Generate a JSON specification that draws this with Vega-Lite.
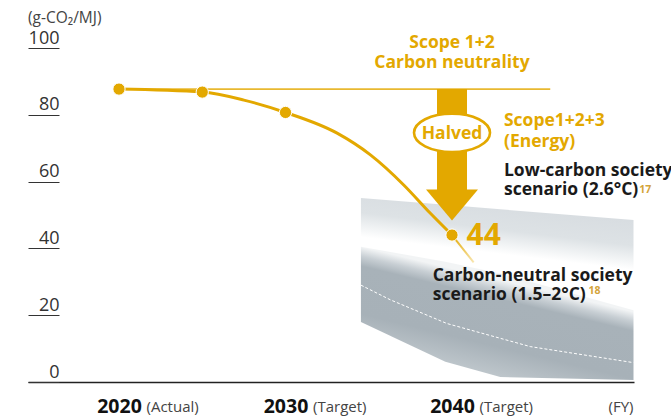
{
  "$schema": "https://vega.github.io/schema/vega-lite/v6.json",
  "width": 606,
  "height": 334,
  "autosize": {"type": "none"},
  "padding": {"left": 28, "top": 48, "right": 37, "bottom": 34},
  "background": "#ffffff",
  "config": {
    "view": {"stroke": null},
    "font": "Open Sans",
    "axisX": {"domainColor": "#222222", "domainWidth": 1.4, "ticks": false, "grid": false, "labelFont": "Open Sans", "labelFontWeight": "bold", "labelFontSize": 19.5, "labelColor": "#111111", "labelBaseline": "alphabetic", "labelPadding": 30, "labelFlush": false, "labelOverlap": false},
    "axisY": {"domain": false, "grid": false, "offset": -31, "tickSize": 31, "tickColor": "#333333", "tickWidth": 1, "labelAlign": "right", "labelBaseline": "alphabetic", "labelPadding": -31, "labelOffset": -5, "labelFontSize": 18, "labelColor": "#333333", "labelFont": "Open Sans", "labelFlush": false}
  },
  "datasets": {
    "upper": [
      {"year": 2034.53, "top": 55.1, "bottom": 40.5},
      {"year": 2039.6, "top": 53.1, "bottom": 36.0},
      {"year": 2042.9, "top": 51.7, "bottom": 32.5},
      {"year": 2050.9, "top": 48.5, "bottom": 21.5}
    ],
    "lower": [
      {"year": 2034.53, "top": 40.5, "bottom": 18.0},
      {"year": 2039.6, "top": 36.0, "bottom": 6.1},
      {"year": 2042.9, "top": 32.5, "bottom": 1.5},
      {"year": 2050.9, "top": 21.5, "bottom": 0.6}
    ],
    "dashed": [
      {"year": 2034.53, "v": 29.0},
      {"year": 2036.3, "v": 24.6},
      {"year": 2039.7, "v": 17.5},
      {"year": 2044.7, "v": 10.6},
      {"year": 2050.9, "v": 5.8}
    ],
    "neutral": [
      {"year": 2020, "v": 87.7},
      {"year": 2045.9, "v": 87.7}
    ],
    "curve": [
      {"year": 2020, "v": 87.7},
      {"year": 2025, "v": 86.8},
      {"year": 2027.5, "v": 84.4},
      {"year": 2030, "v": 80.7},
      {"year": 2033.1, "v": 74.5},
      {"year": 2035.1, "v": 68.0},
      {"year": 2037.1, "v": 59.0},
      {"year": 2038.7, "v": 50.5},
      {"year": 2040, "v": 44.0}
    ],
    "tail": [
      {"year": 2040, "v": 44.0},
      {"year": 2041.3, "v": 35.8}
    ],
    "points": [
      {"year": 2020, "v": 87.7},
      {"year": 2025, "v": 86.8},
      {"year": 2030, "v": 80.7},
      {"year": 2040, "v": 44.0}
    ],
    "arrow": [
      {"year": 2040, "from": 87.7, "to": 57.0}
    ],
    "xnotes": [
      {"year": 2020, "label": "(Actual)"},
      {"year": 2030, "label": "(Target)"},
      {"year": 2040, "label": "(Target)"}
    ],
    "notes": [
      {"id": "unit", "label": "(g-CO₂/MJ)"},
      {"id": "scope12", "label": "Scope 1+2\nCarbon neutrality"},
      {"id": "halved", "label": "Halved"},
      {"id": "scope123", "label": "Scope1+2+3\n(Energy)"},
      {"id": "low", "label": "Low-carbon society\nscenario (2.6°C)"},
      {"id": "n17", "label": "17"},
      {"id": "val44", "label": "44"},
      {"id": "neutral", "label": "Carbon-neutral society\nscenario (1.5–2°C)"},
      {"id": "n18", "label": "18"},
      {"id": "fy", "label": "(FY)"}
    ]
  },
  "layer": [
    {
      "data": {"name": "upper"},
      "mark": {"type": "area", "color": {"gradient": "linear", "x1": 0.295, "y1": 0, "x2": 0, "y2": 1, "stops": [
        {"offset": 0, "color": "#d8dde1"},
        {"offset": 0.2, "color": "#dde2e5"},
        {"offset": 0.33, "color": "#f3f5f6"},
        {"offset": 0.4, "color": "#ffffff"},
        {"offset": 1, "color": "#ffffff"}
      ]}},
      "encoding": {
        "x": {"field": "year", "type": "quantitative", "scale": {"domain": [2014.535, 2050.93], "nice": false, "zero": false}, "axis": {"values": [2020, 2030, 2040], "format": "d", "title": null}},
        "y": {"field": "top", "type": "quantitative", "scale": {"domain": [0, 100], "nice": false, "zero": false}, "axis": {"values": [0, 20, 40, 60, 80, 100], "title": null}},
        "y2": {"field": "bottom"}
      }
    },
    {
      "data": {"name": "lower"},
      "mark": {"type": "area", "color": {"gradient": "linear", "x1": 0.489, "y1": 0, "x2": 0, "y2": 1, "stops": [
        {"offset": 0.193, "color": "#f2f4f5"},
        {"offset": 0.25, "color": "#c8cfd4"},
        {"offset": 0.31, "color": "#a8b2b9"},
        {"offset": 0.6, "color": "#a7b1b8"},
        {"offset": 0.8, "color": "#c0c8cd"}
      ]}},
      "encoding": {
        "x": {"field": "year", "type": "quantitative", "title": null},
        "y": {"field": "top", "type": "quantitative", "title": null},
        "y2": {"field": "bottom"}
      }
    },
    {
      "data": {"name": "dashed"},
      "mark": {"type": "line", "color": "#ffffff", "strokeWidth": 1, "strokeDash": [3, 2]},
      "encoding": {
        "x": {"field": "year", "type": "quantitative", "title": null},
        "y": {"field": "v", "type": "quantitative", "title": null}
      }
    },
    {
      "data": {"name": "neutral"},
      "mark": {"type": "line", "color": "#e8b830", "strokeWidth": 1.8},
      "encoding": {
        "x": {"field": "year", "type": "quantitative", "title": null},
        "y": {"field": "v", "type": "quantitative", "title": null}
      }
    },
    {
      "data": {"name": "arrow"},
      "mark": {"type": "rule", "color": "#e3a800", "strokeWidth": 30},
      "encoding": {
        "x": {"field": "year", "type": "quantitative", "title": null},
        "y": {"field": "from", "type": "quantitative", "title": null},
        "y2": {"field": "to"}
      }
    },
    {
      "data": {"name": "arrow"},
      "mark": {"type": "point", "shape": "M-1,-0.6L1,-0.6L0,0.6Z", "size": 2704, "filled": true, "color": "#e3a800", "opacity": 1, "strokeWidth": 0},
      "encoding": {
        "x": {"field": "year", "type": "quantitative", "title": null},
        "y": {"datum": 53.0}
      }
    },
    {
      "data": {"name": "notes"},
      "transform": [{"filter": "datum.id === 'halved'"}],
      "mark": {"type": "point", "shape": "M-1,0A1,0.505,0,1,1,1,0A1,0.505,0,1,1,-1,0Z", "size": 5776, "fill": "#ffffff", "stroke": "#e3a800", "strokeWidth": 2.6, "opacity": 1, "fillOpacity": 1},
      "encoding": {
        "x": {"datum": 2040},
        "y": {"datum": 74.6}
      }
    },
    {
      "data": {"name": "curve"},
      "mark": {"type": "line", "color": "#e3a800", "strokeWidth": 3, "interpolate": "monotone"},
      "encoding": {
        "x": {"field": "year", "type": "quantitative", "title": null},
        "y": {"field": "v", "type": "quantitative", "title": null}
      }
    },
    {
      "data": {"name": "tail"},
      "mark": {"type": "line", "strokeWidth": 2, "stroke": {"gradient": "linear", "x1": 0, "y1": 0, "x2": 1, "y2": 1, "stops": [
        {"offset": 0, "color": "#e3a800"},
        {"offset": 1, "color": "#f8e6b0"}
      ]}},
      "encoding": {
        "x": {"field": "year", "type": "quantitative", "title": null},
        "y": {"field": "v", "type": "quantitative", "title": null}
      }
    },
    {
      "data": {"name": "points"},
      "mark": {"type": "point", "shape": "circle", "filled": true, "size": 150, "color": "#e3a800", "stroke": "#ffffff", "strokeWidth": 1, "opacity": 1},
      "encoding": {
        "x": {"field": "year", "type": "quantitative", "title": null},
        "y": {"field": "v", "type": "quantitative", "title": null}
      }
    },
    {
      "data": {"name": "xnotes"},
      "mark": {"type": "text", "align": "left", "baseline": "alphabetic", "dx": 27.5, "fontSize": 15, "color": "#444444", "font": "Open Sans"},
      "encoding": {
        "x": {"field": "year", "type": "quantitative", "title": null},
        "y": {"datum": -9.0},
        "text": {"field": "label"}
      }
    },
    {
      "data": {"name": "notes"},
      "transform": [{"filter": "datum.id === 'fy'"}],
      "mark": {"type": "text", "align": "right", "baseline": "alphabetic", "fontSize": 15, "color": "#444444", "font": "Open Sans"},
      "encoding": {"x": {"datum": 2050.9}, "y": {"datum": -9.0}, "text": {"field": "label"}}
    },
    {
      "data": {"name": "notes"},
      "transform": [{"filter": "datum.id === 'unit'"}],
      "mark": {"type": "text", "align": "left", "baseline": "alphabetic", "fontSize": 15.5, "color": "#444444", "font": "Open Sans"},
      "encoding": {"x": {"datum": 2014.535}, "y": {"datum": 107.6}, "text": {"field": "label"}}
    },
    {
      "data": {"name": "notes"},
      "transform": [{"filter": "datum.id === 'scope12'"}],
      "mark": {"type": "text", "align": "center", "baseline": "alphabetic", "lineBreak": "\n", "lineHeight": 20.6, "fontSize": 17.5, "fontWeight": "bold", "color": "#e3a800", "font": "Open Sans"},
      "encoding": {"x": {"datum": 2040}, "y": {"datum": 100.1}, "text": {"field": "label"}}
    },
    {
      "data": {"name": "notes"},
      "transform": [{"filter": "datum.id === 'halved'"}],
      "mark": {"type": "text", "align": "center", "baseline": "middle", "fontSize": 17.5, "fontWeight": "bold", "color": "#e3a800", "font": "Open Sans"},
      "encoding": {"x": {"datum": 2040}, "y": {"datum": 74.3}, "text": {"field": "label"}}
    },
    {
      "data": {"name": "notes"},
      "transform": [{"filter": "datum.id === 'scope123'"}],
      "mark": {"type": "text", "align": "left", "baseline": "alphabetic", "lineBreak": "\n", "lineHeight": 20.5, "fontSize": 17.5, "fontWeight": "bold", "color": "#e3a800", "font": "Open Sans"},
      "encoding": {"x": {"datum": 2043.12}, "y": {"datum": 76.6}, "text": {"field": "label"}}
    },
    {
      "data": {"name": "notes"},
      "transform": [{"filter": "datum.id === 'low'"}],
      "mark": {"type": "text", "align": "left", "baseline": "alphabetic", "lineBreak": "\n", "lineHeight": 19.5, "fontSize": 17.5, "fontWeight": "bold", "color": "#1a1a1a", "font": "Open Sans"},
      "encoding": {"x": {"datum": 2043.12}, "y": {"datum": 61.7}, "text": {"field": "label"}}
    },
    {
      "data": {"name": "notes"},
      "transform": [{"filter": "datum.id === 'n17'"}],
      "mark": {"type": "text", "align": "left", "baseline": "alphabetic", "fontSize": 10.5, "fontWeight": "bold", "color": "#d4a43a", "font": "Open Sans"},
      "encoding": {"x": {"datum": 2051.25}, "y": {"datum": 56.6}, "text": {"field": "label"}}
    },
    {
      "data": {"name": "notes"},
      "transform": [{"filter": "datum.id === 'val44'"}],
      "mark": {"type": "text", "align": "left", "baseline": "alphabetic", "fontSize": 30, "fontWeight": "bold", "color": "#e3a800", "font": "Open Sans"},
      "encoding": {"x": {"datum": 2040.87}, "y": {"datum": 41.0}, "text": {"field": "label"}}
    },
    {
      "data": {"name": "notes"},
      "transform": [{"filter": "datum.id === 'neutral'"}],
      "mark": {"type": "text", "align": "left", "baseline": "alphabetic", "lineBreak": "\n", "lineHeight": 19.5, "fontSize": 17.5, "fontWeight": "bold", "color": "#1a1a1a", "font": "Open Sans"},
      "encoding": {"x": {"datum": 2038.84}, "y": {"datum": 30.3}, "text": {"field": "label"}}
    },
    {
      "data": {"name": "notes"},
      "transform": [{"filter": "datum.id === 'n18'"}],
      "mark": {"type": "text", "align": "left", "baseline": "alphabetic", "fontSize": 10.5, "fontWeight": "bold", "color": "#d4a43a", "font": "Open Sans"},
      "encoding": {"x": {"datum": 2048.2}, "y": {"datum": 26.4}, "text": {"field": "label"}}
    }
  ]
}
